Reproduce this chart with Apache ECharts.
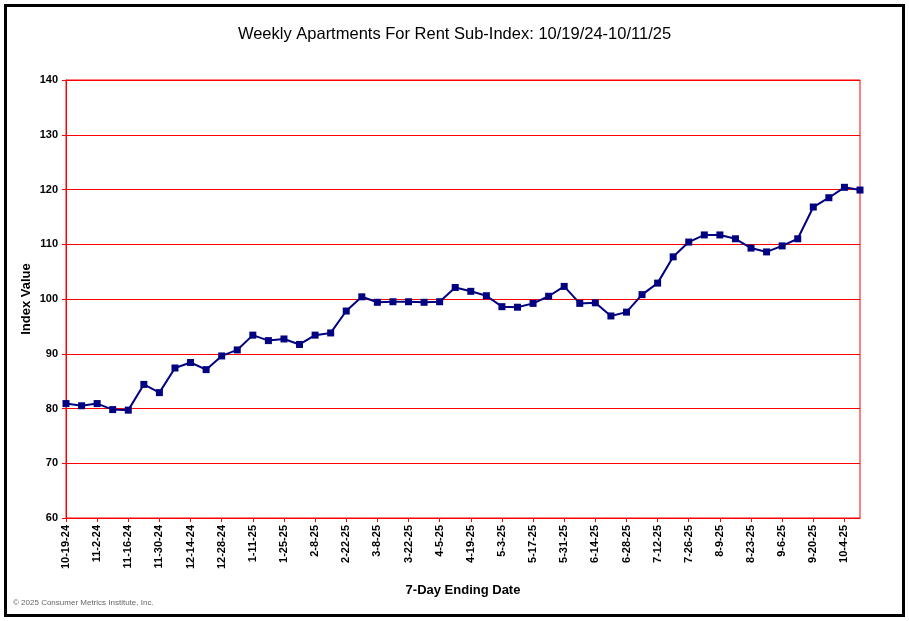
<!DOCTYPE html>
<html><head><meta charset="utf-8">
<script src="https://cdn.jsdelivr.net/npm/echarts@6/dist/echarts.min.js"></script>
<style>html,body{margin:0;padding:0;background:#fff}#c{width:909px;height:621px}</style>
</head><body><div id="c"></div>
<script>
const categories = ["10-19-24","10-26-24","11-2-24","11-9-24","11-16-24","11-23-24","11-30-24","12-7-24","12-14-24","12-21-24","12-28-24","1-4-25","1-11-25","1-18-25","1-25-25","2-1-25","2-8-25","2-15-25","2-22-25","3-1-25","3-8-25","3-15-25","3-22-25","3-29-25","4-5-25","4-12-25","4-19-25","4-26-25","5-3-25","5-10-25","5-17-25","5-24-25","5-31-25","6-7-25","6-14-25","6-21-25","6-28-25","7-5-25","7-12-25","7-19-25","7-26-25","8-2-25","8-9-25","8-16-25","8-23-25","8-30-25","9-6-25","9-13-25","9-20-25","9-27-25","10-4-25","10-11-25"];
const indexValues = [80.9,80.5,80.9,79.8,79.7,84.4,82.9,87.4,88.4,87.1,89.6,90.7,93.4,92.4,92.7,91.7,93.4,93.8,97.8,100.4,99.4,99.5,99.5,99.4,99.5,102.1,101.4,100.6,98.6,98.5,99.2,100.5,102.3,99.2,99.3,96.9,97.6,100.8,102.9,107.7,110.4,111.7,111.7,111.0,109.3,108.6,109.7,111.0,116.8,118.5,120.4,119.9];
const yMin = 60, yMax = 140, yStep = 10;

const chart = echarts.init(document.getElementById('c'), null, {renderer:'canvas'});
const F = 'Arial, "Liberation Sans", sans-serif';
chart.setOption({
  backgroundColor:'#fff',
  animation:false,
  title:{text:'Weekly Apartments For Rent Sub-Index: 10/19/24-10/11/25',left:'center',top:21,
    textStyle:{fontFamily:F,fontSize:16.5,fontWeight:'normal',color:'#000'}},
  grid:{left:66,top:80,right:49,bottom:103,show:true,borderColor:'#ff0000',borderWidth:1},
  xAxis:{type:'category',data:categories,boundaryGap:false,
    name:'7-Day Ending Date',nameLocation:'middle',nameGap:66,
    nameTextStyle:{fontFamily:F,fontSize:13,fontWeight:'bold',color:'#000'},
    axisLine:{lineStyle:{color:'#ff0000',width:1}},
    axisTick:{show:true,interval:1,length:4,lineStyle:{color:'#ff0000'}},
    axisLabel:{interval:1,rotate:90,margin:7,fontFamily:F,fontSize:11,fontWeight:'bold',color:'#000'},
    splitLine:{show:false}},
  yAxis:{type:'value',min:yMin,max:yMax,interval:yStep,
    name:'Index Value',nameLocation:'middle',nameGap:33,nameRotate:90,nameMoveOverlap:false,
    nameTextStyle:{fontFamily:F,fontSize:13,fontWeight:'bold',color:'#000'},
    axisLine:{show:true,lineStyle:{color:'#ff0000'}},
    axisTick:{show:true,length:4,lineStyle:{color:'#ff0000'}},
    axisLabel:{margin:8,fontFamily:F,fontSize:11,fontWeight:'bold',color:'#000'},
    splitLine:{show:true,lineStyle:{color:'#ff0000',width:1}}},
  series:[{type:'line',data:indexValues,symbol:'rect',symbolSize:7,
    lineStyle:{color:'#000080',width:2},itemStyle:{color:'#000080'}}],
  graphic:[
    {type:'rect',shape:{x:5.5,y:5.5,width:898,height:610},style:{fill:null,stroke:'#000',lineWidth:3},silent:true},
    {type:'text',left:13,top:599,style:{text:'© 2025 Consumer Metrics Institute, Inc.',font:'8px '+F,fill:'#666'}}
  ]
});
</script></body></html>
